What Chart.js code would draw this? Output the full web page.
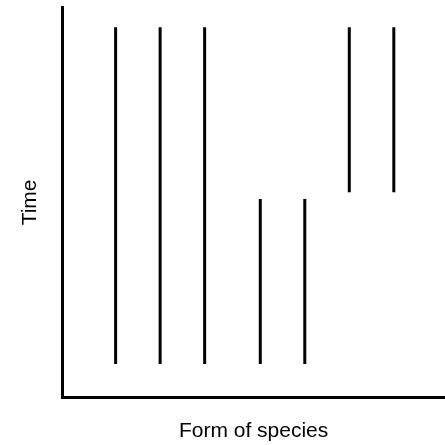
<!DOCTYPE html>
<html>
<head>
<meta charset="utf-8">
<script src="https://cdn.jsdelivr.net/npm/chart.js@4/dist/chart.umd.min.js"></script>
<style>
  html, body { margin: 0; padding: 0; background: #fff; }
  #wrap { width: 445px; height: 445px; }
</style>
</head>
<body>
<div id="wrap"><canvas id="speciesChart"></canvas></div>
<script>
// species positions along the form axis
const speciesForm = [1, 2, 3, 4.25, 5.25, 6.25, 7.25];
// time each lineage starts and ends
const timeStart = [0, 0, 0, 0, 0, 5.1, 5.1];
const timeEnd = [10, 10, 10, 4.9, 4.9, 10, 10];

const xTitle = 'Form of species';
const yTitle = 'Time';

document.addEventListener('DOMContentLoaded', function () {
    const ctx = document.getElementById('speciesChart').getContext('2d');

    const datasets = speciesForm.map(function (x, i) {
        return {
            label: 'species ' + (i + 1),
            data: [{ x: x, y: timeStart[i] }, { x: x, y: timeEnd[i] }],
            borderColor: '#000',
            borderWidth: 3,
            pointRadius: 0,
            fill: false
        };
    });

    new Chart(ctx, {
        type: 'line',
        data: { datasets: datasets },
        options: {
            responsive: true,
            maintainAspectRatio: false,
            animation: false,
            layout: { padding: { left: 0, right: 0, top: 7, bottom: 0 } },
            plugins: {
                legend: { display: false },
                tooltip: { enabled: false }
            },
            scales: {
                x: {
                    type: 'linear',
                    min: -0.2,
                    max: 8.4,
                    grid: { display: false, drawTicks: false },
                    ticks: { display: false },
                    border: { display: true, color: '#000', width: 3 },
                    title: {
                        display: true,
                        text: xTitle,
                        color: '#000',
                        font: { family: 'Liberation Sans, Arial, sans-serif', size: 21 },
                        padding: { top: 21, bottom: 1 }
                    }
                },
                y: {
                    type: 'linear',
                    min: -1,
                    max: 10.6,
                    grid: { display: false, drawTicks: false },
                    ticks: { display: false },
                    border: { display: true, color: '#000', width: 3 },
                    title: {
                        display: true,
                        text: yTitle,
                        color: '#000',
                        font: { family: 'Liberation Sans, Arial, sans-serif', size: 21 },
                        padding: { top: 18, bottom: 19 }
                    }
                }
            }
        }
    });
});
</script>
</body>
</html>
